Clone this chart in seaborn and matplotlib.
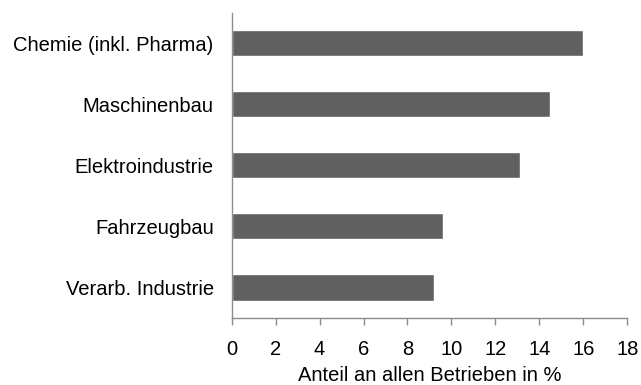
import matplotlib
matplotlib.use("Agg")
import matplotlib.pyplot as plt
import seaborn as sns
import pandas as pd

branchen = ["Chemie (inkl. Pharma)", "Maschinenbau", "Elektroindustrie",
            "Fahrzeugbau", "Verarb. Industrie"]
anteile = [16.0, 14.5, 13.1, 9.6, 9.2]
x_ticks = [0, 2, 4, 6, 8, 10, 12, 14, 16, 18]

sns.set_style("white")
plt.rcParams["font.family"] = ["Liberation Sans", "DejaVu Sans"]
plt.rcParams["text.color"] = "black"
plt.rcParams["axes.labelcolor"] = "black"
plt.rcParams["xtick.color"] = "black"
plt.rcParams["ytick.color"] = "black"

df = pd.DataFrame({"Branche": branchen, "Anteil": anteile})

fig = plt.figure(figsize=(6.41, 3.85), dpi=100)
ax = fig.add_axes([0.3615, 0.174, 0.617, 0.7935])

sns.barplot(data=df, x="Anteil", y="Branche", orient="h", color="#606060",
            saturation=1, width=0.43, ax=ax)

ax.set_xlim(0, 18)
ax.set_ylim(4.5, -0.5)
ax.set_xticks(x_ticks)
ax.set_xticklabels([str(t) for t in x_ticks])
ax.set_xlabel("Anteil an allen Betrieben in %", fontsize=14.5, labelpad=5,
              color="black")
ax.set_ylabel("")

for side in ["top", "right"]:
    ax.spines[side].set_visible(False)
for side in ["left", "bottom"]:
    ax.spines[side].set_color("#8c8c8c")
    ax.spines[side].set_linewidth(1.0)

ax.tick_params(axis="x", bottom=True, length=5, width=1, color="#8c8c8c",
               labelcolor="black", labelsize=14.5, pad=11)
ax.tick_params(axis="y", left=False, labelcolor="black", labelsize=14.5,
               pad=9.5)

fig.savefig("out.png", dpi=100)
